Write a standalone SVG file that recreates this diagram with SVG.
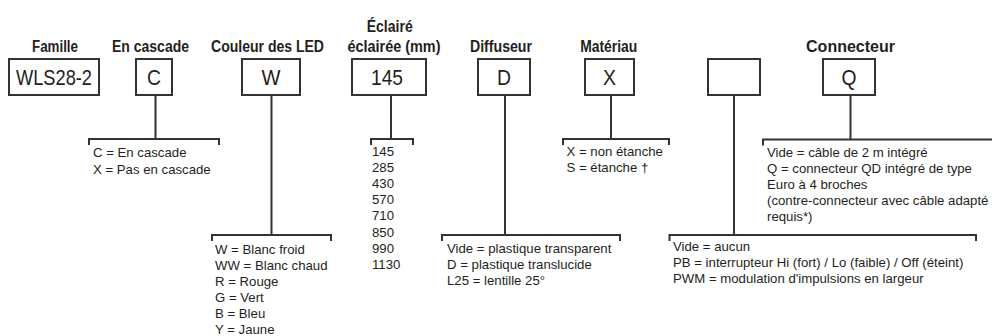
<svg xmlns="http://www.w3.org/2000/svg" width="992" height="336" viewBox="0 0 992 336">
<style>
.t{font-family:"Liberation Sans",Arial,sans-serif;font-weight:bold;font-size:16px;fill:#231f20;text-anchor:middle}
.b{font-family:"Liberation Sans",Arial,sans-serif;font-size:22px;fill:#231f20;text-anchor:middle}
.d{font-family:"Liberation Sans",Arial,sans-serif;font-size:13.2px;fill:#231f20}
.box{fill:#fff;stroke:#333;stroke-width:2}
.ln{fill:none;stroke:#333;stroke-width:2}
</style>
<rect width="992" height="336" fill="#fff"/>
<g id="famille">
<text class="t" x="55" y="52" textLength="46" lengthAdjust="spacingAndGlyphs">Famille</text>
<rect class="box" x="9" y="59" width="90" height="36"/>
<text class="b" x="54" y="85" textLength="76" lengthAdjust="spacingAndGlyphs">WLS28-2</text>
</g>
<g id="cascade">
<text class="t" x="150.5" y="52" textLength="77" lengthAdjust="spacingAndGlyphs">En cascade</text>
<rect class="box" x="136" y="59" width="36" height="36"/>
<text class="b" x="154" y="85" textLength="14" lengthAdjust="spacingAndGlyphs">C</text>
<text class="d"><tspan x="93" y="157">C = En cascade</tspan><tspan x="93" y="174">X = Pas en cascade</tspan></text>
</g>
<g id="couleur">
<text class="t" x="267.5" y="52" textLength="113" lengthAdjust="spacingAndGlyphs">Couleur des LED</text>
<rect class="box" x="242" y="59" width="58" height="36"/>
<text class="b" x="271" y="85" textLength="19" lengthAdjust="spacingAndGlyphs">W</text>
<text class="d"><tspan x="215" y="254">W = Blanc froid</tspan><tspan x="215" y="270">WW = Blanc chaud</tspan><tspan x="215" y="286">R = Rouge</tspan><tspan x="215" y="302">G = Vert</tspan><tspan x="215" y="318">B = Bleu</tspan><tspan x="215" y="334">Y = Jaune</tspan></text>
</g>
<g id="longueur">
<text class="t" x="389.7" y="32" textLength="46" lengthAdjust="spacingAndGlyphs">Éclairé</text>
<text class="t" x="394" y="52" textLength="93" lengthAdjust="spacingAndGlyphs">éclairée (mm)</text>
<rect class="box" x="352" y="59" width="74" height="36"/>
<text class="b" x="387" y="85" textLength="32" lengthAdjust="spacingAndGlyphs">145</text>
<text class="d"><tspan x="372" y="156">145</tspan><tspan x="372" y="172">285</tspan><tspan x="372" y="188">430</tspan><tspan x="372" y="204">570</tspan><tspan x="372" y="220">710</tspan><tspan x="372" y="237">850</tspan><tspan x="372" y="253">990</tspan><tspan x="372" y="269">1130</tspan></text>
</g>
<g id="diffuseur">
<text class="t" x="501" y="52" textLength="62" lengthAdjust="spacingAndGlyphs">Diffuseur</text>
<rect class="box" x="478" y="59" width="52" height="36"/>
<text class="b" x="504" y="85" textLength="14" lengthAdjust="spacingAndGlyphs">D</text>
<text class="d"><tspan x="447" y="253">Vide = plastique transparent</tspan><tspan x="447" y="269">D = plastique translucide</tspan><tspan x="447" y="285">L25 = lentille 25°</tspan></text>
</g>
<g id="materiau">
<text class="t" x="608.7" y="52" textLength="57" lengthAdjust="spacingAndGlyphs">Matériau</text>
<rect class="box" x="585" y="59" width="49" height="36"/>
<text class="b" x="609.5" y="85" textLength="13" lengthAdjust="spacingAndGlyphs">X</text>
<text class="d"><tspan x="566.5" y="156">X = non étanche</tspan><tspan x="566.5" y="172">S = étanche †</tspan></text>
</g>
<g id="option">
<rect class="box" x="708" y="59" width="52" height="36"/>
<text class="d"><tspan x="673" y="251">Vide = aucun</tspan><tspan x="673" y="267">PB = interrupteur Hi (fort) / Lo (faible) / Off (éteint)</tspan><tspan x="673" y="283">PWM = modulation d'impulsions en largeur</tspan></text>
</g>
<g id="connecteur">
<text class="t" x="850.5" y="52">Connecteur</text>
<rect class="box" x="823" y="59" width="52" height="36"/>
<text class="b" x="849" y="85" textLength="15" lengthAdjust="spacingAndGlyphs">Q</text>
<text class="d"><tspan x="767" y="157">Vide = câble de 2 m intégré</tspan><tspan x="767" y="173">Q = connecteur QD intégré de type</tspan><tspan x="767" y="189">Euro à 4 broches</tspan><tspan x="767" y="205">(contre-connecteur avec câble adapté</tspan><tspan x="767" y="221">requis*)</tspan></text>
</g>
<g id="connectors">
<path class="ln" d="M155.5 95V139M89 145V139H219V145"/>
<path class="ln" d="M271.5 95V235M212 241V235H331V241"/>
<path class="ln" d="M391 95V139M371 145V139H413V145"/>
<path class="ln" d="M505 95V235M442 241V235H620V241"/>
<path class="ln" d="M611 95V139M563 145V139H669V145"/>
<path class="ln" d="M734 95V235M669.5 241V235H976V241"/>
<path class="ln" d="M850.5 95V139.5M763 145.5V139.5H996"/>
</g>
</svg>
